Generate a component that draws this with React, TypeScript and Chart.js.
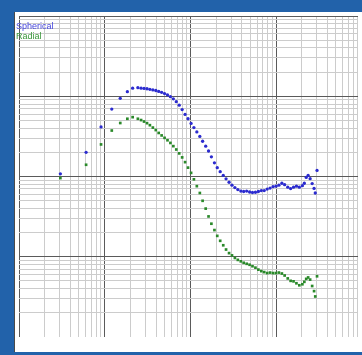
import React, { useEffect, useRef } from "react";
import { Chart, registerables } from "chart.js";

Chart.register(...registerables);

// Elapsed time (shared abscissa of both series)
const timeValues = [
  0.00304, 0.00607, 0.00907, 0.0121, 0.0152, 0.0184, 0.0212, 0.0244,
  0.0266, 0.0288, 0.0312, 0.0337, 0.0365, 0.0395, 0.0427, 0.0462, 0.05, 0.0541,
  0.0585, 0.0633, 0.0685, 0.0741, 0.0802, 0.0868, 0.0939, 0.102, 0.11, 0.119,
  0.129, 0.139, 0.151, 0.163, 0.176, 0.191, 0.206, 0.223, 0.242, 0.261,
  0.283, 0.306, 0.331, 0.358, 0.388, 0.419, 0.454, 0.491, 0.531, 0.575,
  0.622, 0.673, 0.728, 0.788, 0.852, 0.922, 0.998, 1.08, 1.17, 1.26,
  1.37, 1.48, 1.6, 1.73, 1.87, 2.03,
  2.14, 2.25, 2.37, 2.5, 2.64, 2.78, 2.87, 3.01,
];

const sphericalValues = [
  10.8, 20.0, 41.5, 69.3, 94.3, 114, 126, 128,
  126, 125, 124, 122, 120, 118, 115, 112, 108, 104,
  98.9, 93.0, 85.5, 77.5, 68.3, 59.4, 52.4, 45.9, 40.7, 35.9,
  31.6, 27.5, 23.9, 20.8, 17.6, 14.8, 12.9, 11.5, 10.3, 9.35,
  8.48, 7.79, 7.27, 6.87, 6.59, 6.5, 6.59, 6.41, 6.32, 6.36,
  6.5, 6.68, 6.68, 6.97, 7.17, 7.47, 7.58, 7.79, 8.24, 7.9,
  7.37, 7.07, 7.37, 7.58, 7.37, 7.69,
  8.24, 9.75, 10.3, 9.4, 8.17, 7.11, 6.23, 11.9,
];

const radialValues = [
  9.56, 14.0, 25.1, 37.4, 46.4, 52.4, 54.9, 52.4,
  50.5, 48.4, 46.2, 43.6, 40.7, 37.9, 34.9, 32.5, 30.3, 28.3,
  26.2, 23.9, 21.7, 19.4, 17.3, 15.1, 12.9, 11.1, 9.22, 7.58,
  6.23, 4.98, 3.98, 3.18, 2.58, 2.15, 1.82, 1.58, 1.39, 1.23,
  1.11, 1.04, 0.967, 0.914, 0.877, 0.841, 0.817, 0.795, 0.762, 0.731,
  0.691, 0.662, 0.644, 0.626, 0.635, 0.626, 0.626, 0.635, 0.618, 0.584,
  0.537, 0.501, 0.494, 0.467, 0.441, 0.454,
  0.487, 0.53, 0.552, 0.519, 0.432, 0.373, 0.32, 0.571,
];

const seriesNames = ["Spherical", "Radial"];
const seriesColors = ["#2b2bcf", "#2a892a"];

const X_MIN = 0.001;
const X_MAX = 9.05;
const Y_MIN = 0.1;
const Y_MAX = 1000;

function logTickValues(min: number, max: number, includeMin: boolean) {
  const out: number[] = [];
  const e0 = Math.floor(Math.log10(min));
  const e1 = Math.ceil(Math.log10(max));
  for (let e = e0; e <= e1; e++) {
    for (let m = 1; m <= 9; m++) {
      const v = parseFloat((m * Math.pow(10, e)).toPrecision(6));
      if (v < min * 0.9999 || v > max * 1.0001) continue;
      if (!includeMin && v <= min * 1.0001) continue;
      out.push(v);
    }
  }
  return out;
}

function isDecade(v: number) {
  const l = Math.log10(v);
  return Math.abs(l - Math.round(l)) < 1e-6;
}

const gridColor = (ctx: any) =>
  ctx.tick && isDecade(ctx.tick.value) ? "#5a5a5a" : "#cccccc";

export default function App() {
  const canvasRef = useRef<HTMLCanvasElement | null>(null);

  useEffect(() => {
    const canvas = canvasRef.current;
    if (!canvas) return;
    const toPoints = (ys: number[]) => timeValues.map((x, i) => ({ x, y: ys[i] }));
    const chart = new Chart(canvas, {
      type: "scatter",
      data: {
        datasets: [
          {
            label: seriesNames[0],
            data: toPoints(sphericalValues),
            backgroundColor: seriesColors[0],
            borderColor: seriesColors[0],
            pointStyle: "circle",
            pointRadius: 1.65,
            borderWidth: 0,
          },
          {
            label: seriesNames[1],
            data: toPoints(radialValues),
            backgroundColor: seriesColors[1],
            borderColor: seriesColors[1],
            pointStyle: "rect",
            pointRadius: 1.9,
            borderWidth: 0,
          },
        ],
      },
      options: {
        animation: false,
        responsive: false,
        devicePixelRatio: 1,
        layout: { padding: 0 },
        plugins: { legend: { display: false }, tooltip: { enabled: false } },
        scales: {
          x: {
            type: "logarithmic",
            min: X_MIN,
            max: X_MAX,
            afterBuildTicks: (scale: any) => {
              scale.ticks = logTickValues(X_MIN, X_MAX, true).map((value) => ({ value }));
            },
            ticks: { display: false },
            grid: { color: gridColor, lineWidth: 1, drawTicks: false },
            border: { display: false },
          },
          y: {
            type: "logarithmic",
            min: Y_MIN,
            max: Y_MAX,
            afterBuildTicks: (scale: any) => {
              scale.ticks = logTickValues(Y_MIN, Y_MAX, false).map((value) => ({ value }));
            },
            ticks: { display: false },
            grid: { color: gridColor, lineWidth: 1, drawTicks: false },
            border: { display: false },
          },
        },
      },
    });
    return () => chart.destroy();
  }, []);

  return (
    <div
      style={{
        position: "fixed",
        left: 0,
        top: 0,
        width: 362,
        height: 355,
        background: "#2262aa",
        overflow: "hidden",
      }}
    >
      <div
        style={{
          position: "absolute",
          left: 14,
          top: 12,
          width: 348,
          height: 340,
          background: "#ffffff",
          borderLeft: "1px solid #4a4a4a",
          boxSizing: "border-box",
        }}
      />
      <canvas
        ref={canvasRef}
        width={347}
        height={329}
        style={{ position: "absolute", left: 15, top: 12, width: 347, height: 329 }}
      />
      <div
        style={{
          position: "absolute",
          left: 16,
          top: 21,
          font: "9px 'Liberation Sans', Arial, sans-serif",
          lineHeight: "10px",
        }}
      >
        <div style={{ color: "#4545dd" }}>{seriesNames[0]}</div>
        <div style={{ color: "#3a963a" }}>{seriesNames[1]}</div>
      </div>
    </div>
  );
}
